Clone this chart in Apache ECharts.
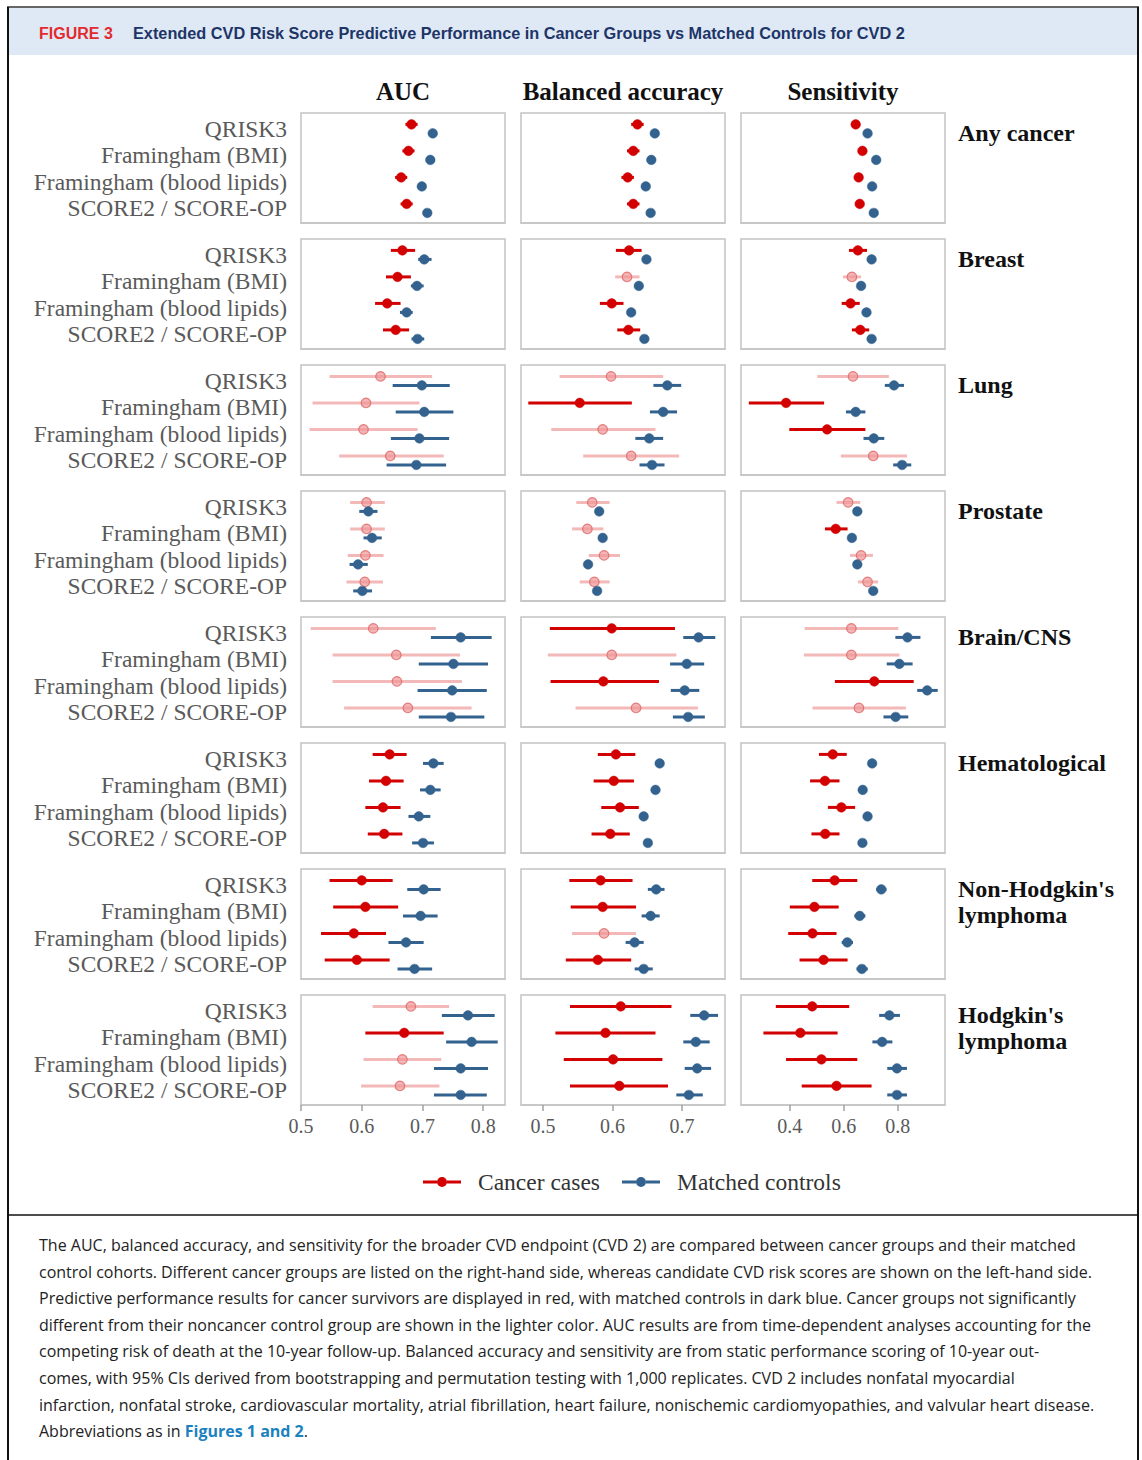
<!DOCTYPE html>
<html>
<head>
<meta charset="utf-8">
<script src="https://cdn.jsdelivr.net/npm/echarts@6/dist/echarts.min.js"></script>
<style>
  html, body { margin: 0; padding: 0; background: #fff; }
  #chart { width: 1142px; height: 1460px; }
</style>
</head>
<body>
<div id="chart"></div>
<script>
// categories
const scores = ["QRISK3", "Framingham (BMI)", "Framingham (blood lipids)", "SCORE2 / SCORE-OP"];
const groups = ["Any cancer", "Breast", "Lung", "Prostate", "Brain/CNS", "Hematological", "Non-Hodgkin's\nlymphoma", "Hodgkin's\nlymphoma"];
const metrics = ["AUC", "Balanced accuracy", "Sensitivity"];

// tick labels per metric
const aucTicks = [0.5, 0.6, 0.7, 0.8];
const baTicks = [0.5, 0.6, 0.7];
const sensTicks = [0.4, 0.6, 0.8];

// [estimate, lower CI, upper CI], rows = groups, cols = scores
const aucCases = [
  [[0.682,0.672,0.692],[0.677,0.667,0.687],[0.665,0.655,0.675],[0.674,0.664,0.684]],
  [[0.667,0.648,0.688],[0.659,0.640,0.681],[0.642,0.622,0.664],[0.656,0.635,0.678]],
  [[0.631,0.547,0.716],[0.607,0.519,0.695],[0.603,0.514,0.692],[0.647,0.563,0.735]],
  [[0.608,0.581,0.638],[0.608,0.581,0.638],[0.606,0.577,0.636],[0.605,0.575,0.635]],
  [[0.619,0.516,0.722],[0.657,0.552,0.762],[0.658,0.552,0.765],[0.676,0.571,0.781]],
  [[0.646,0.618,0.674],[0.640,0.612,0.669],[0.635,0.606,0.664],[0.637,0.610,0.667]],
  [[0.600,0.547,0.651],[0.606,0.553,0.660],[0.587,0.533,0.640],[0.592,0.539,0.646]],
  [[0.681,0.618,0.744],[0.670,0.606,0.735],[0.667,0.603,0.731],[0.663,0.599,0.728]]
];
const aucControls = [
  [[0.717,0.714,0.720],[0.713,0.710,0.716],[0.699,0.696,0.702],[0.708,0.705,0.711]],
  [[0.703,0.693,0.715],[0.691,0.681,0.702],[0.674,0.663,0.684],[0.692,0.682,0.703]],
  [[0.699,0.651,0.745],[0.703,0.656,0.751],[0.695,0.648,0.744],[0.690,0.641,0.739]],
  [[0.611,0.596,0.626],[0.617,0.603,0.633],[0.594,0.580,0.610],[0.601,0.586,0.617]],
  [[0.763,0.714,0.814],[0.751,0.694,0.808],[0.749,0.692,0.806],[0.747,0.694,0.802]],
  [[0.718,0.701,0.735],[0.713,0.696,0.730],[0.694,0.677,0.713],[0.701,0.683,0.719]],
  [[0.702,0.675,0.730],[0.697,0.668,0.725],[0.673,0.644,0.702],[0.687,0.659,0.716]],
  [[0.775,0.732,0.819],[0.781,0.739,0.824],[0.763,0.719,0.808],[0.763,0.719,0.806]]
];
// 1 = significantly different from controls (dark red), 0 = lighter red
const aucSig = [[1,1,1,1],[1,1,1,1],[0,0,0,0],[0,0,0,0],[0,0,0,0],[1,1,1,1],[1,1,1,1],[0,1,0,0]];

const baCases = [
  [[0.636,0.627,0.645],[0.630,0.621,0.639],[0.622,0.613,0.631],[0.630,0.621,0.639]],
  [[0.624,0.605,0.642],[0.621,0.604,0.639],[0.599,0.582,0.616],[0.623,0.607,0.640]],
  [[0.598,0.524,0.673],[0.553,0.479,0.628],[0.586,0.512,0.662],[0.627,0.558,0.696]],
  [[0.571,0.548,0.596],[0.564,0.542,0.587],[0.588,0.566,0.611],[0.574,0.553,0.596]],
  [[0.599,0.510,0.690],[0.599,0.507,0.692],[0.587,0.511,0.667],[0.634,0.547,0.723]],
  [[0.605,0.579,0.633],[0.602,0.573,0.631],[0.611,0.584,0.638],[0.597,0.570,0.625]],
  [[0.583,0.538,0.629],[0.586,0.540,0.634],[0.588,0.542,0.634],[0.579,0.533,0.627]],
  [[0.612,0.539,0.685],[0.590,0.518,0.662],[0.601,0.530,0.672],[0.610,0.539,0.680]]
];
const baControls = [
  [[0.661,0.658,0.664],[0.656,0.653,0.659],[0.648,0.645,0.651],[0.655,0.652,0.658]],
  [[0.649,0.646,0.652],[0.638,0.635,0.641],[0.627,0.624,0.630],[0.646,0.643,0.649]],
  [[0.679,0.659,0.699],[0.673,0.654,0.693],[0.653,0.633,0.673],[0.657,0.639,0.675]],
  [[0.581,0.578,0.584],[0.586,0.583,0.589],[0.565,0.562,0.568],[0.578,0.575,0.581]],
  [[0.724,0.702,0.748],[0.707,0.683,0.732],[0.704,0.684,0.725],[0.709,0.687,0.733]],
  [[0.668,0.664,0.672],[0.662,0.658,0.666],[0.645,0.641,0.649],[0.651,0.647,0.655]],
  [[0.663,0.651,0.675],[0.655,0.642,0.668],[0.632,0.619,0.645],[0.645,0.632,0.658]],
  [[0.732,0.712,0.752],[0.720,0.702,0.740],[0.722,0.704,0.742],[0.710,0.692,0.730]]
];
const baSig = [[1,1,1,1],[1,0,1,1],[0,1,0,0],[0,0,0,0],[1,0,1,0],[1,1,1,1],[1,1,0,1],[1,1,1,1]];

const sensCases = [
  [[0.644,0.634,0.654],[0.669,0.659,0.679],[0.655,0.645,0.665],[0.659,0.649,0.669]],
  [[0.652,0.619,0.686],[0.630,0.597,0.664],[0.625,0.592,0.659],[0.661,0.630,0.694]],
  [[0.634,0.502,0.767],[0.386,0.248,0.527],[0.538,0.398,0.680],[0.709,0.589,0.834]],
  [[0.616,0.573,0.661],[0.570,0.530,0.614],[0.664,0.623,0.708],[0.688,0.652,0.727]],
  [[0.628,0.455,0.802],[0.628,0.452,0.806],[0.713,0.567,0.859],[0.656,0.484,0.830]],
  [[0.559,0.508,0.611],[0.530,0.475,0.584],[0.591,0.541,0.642],[0.531,0.480,0.584]],
  [[0.566,0.483,0.650],[0.491,0.400,0.581],[0.484,0.394,0.573],[0.525,0.436,0.614]],
  [[0.483,0.348,0.620],[0.439,0.302,0.577],[0.517,0.386,0.650],[0.573,0.444,0.703]]
];
const sensControls = [
  [[0.688,0.681,0.695],[0.720,0.713,0.727],[0.705,0.698,0.712],[0.711,0.704,0.718]],
  [[0.703,0.696,0.710],[0.664,0.657,0.671],[0.684,0.677,0.691],[0.703,0.696,0.710]],
  [[0.786,0.752,0.823],[0.644,0.608,0.680],[0.711,0.673,0.750],[0.816,0.783,0.850]],
  [[0.650,0.643,0.657],[0.630,0.623,0.637],[0.650,0.643,0.657],[0.709,0.702,0.716]],
  [[0.836,0.791,0.884],[0.806,0.759,0.855],[0.909,0.872,0.948],[0.792,0.747,0.839]],
  [[0.705,0.698,0.712],[0.670,0.663,0.677],[0.688,0.681,0.695],[0.669,0.662,0.676]],
  [[0.739,0.720,0.758],[0.659,0.639,0.680],[0.613,0.592,0.634],[0.667,0.647,0.689]],
  [[0.769,0.731,0.808],[0.742,0.706,0.780],[0.797,0.761,0.834],[0.797,0.761,0.834]]
];
const sensSig = [[1,1,1,1],[1,0,1,1],[0,1,1,0],[0,1,0,0],[0,0,1,0],[1,1,1,1],[1,1,1,1],[1,1,1,1]];

const caption = [
  "The AUC, balanced accuracy, and sensitivity for the broader CVD endpoint (CVD 2) are compared between cancer groups and their matched",
  "control cohorts. Different cancer groups are listed on the right-hand side, whereas candidate CVD risk scores are shown on the left-hand side.",
  "Predictive performance results for cancer survivors are displayed in red, with matched controls in dark blue. Cancer groups not significantly",
  "different from their noncancer control group are shown in the lighter color. AUC results are from time-dependent analyses accounting for the",
  "competing risk of death at the 10-year follow-up. Balanced accuracy and sensitivity are from static performance scoring of 10-year out-",
  "comes, with 95% CIs derived from bootstrapping and permutation testing with 1,000 replicates. CVD 2 includes nonfatal myocardial",
  "infarction, nonfatal stroke, cardiovascular mortality, atrial fibrillation, heart failure, nonischemic cardiomyopathies, and valvular heart disease.",
  "Abbreviations as in {link|Figures 1 and 2}."
];

// colours
const RED = "#d20000";
const RED_LIGHT = "rgba(236,140,140,0.62)";
const RED_LIGHT_RING = "rgba(222,96,96,0.75)";
const BLUE = "#33628f";
const SERIF = '"Liberation Serif", "DejaVu Serif", serif';

// layout
const colLeft = [301, 521, 741];
const panelW = 204, panelH = 110, rowTop0 = 113, rowStep = 126;
const xRange = [[0.5, 0.836], [0.4685, 0.762], [0.219, 0.975]];
const tickSets = [aucTicks, baTicks, sensTicks];
const casesSets = [aucCases, baCases, sensCases];
const controlSets = [aucControls, baControls, sensControls];
const sigSets = [aucSig, baSig, sensSig];

const chart = echarts.init(document.getElementById("chart"), null, { renderer: "svg" });

const grids = [], xAxes = [], yAxes = [], series = [];

function renderCI(params, api) {
  const y = api.value(3);
  const p = api.coord([api.value(0), y]);
  const a = api.coord([api.value(1), y]);
  const b = api.coord([api.value(2), y]);
  const kind = api.value(4); // 0 light red, 1 dark red, 2 blue
  const line = kind === 0 ? RED_LIGHT : kind === 1 ? RED : BLUE;
  const fill = kind === 0 ? "rgba(238,150,150,0.7)" : line;
  const stroke = kind === 0 ? RED_LIGHT_RING : line;
  return {
    type: "group",
    children: [
      { type: "line", shape: { x1: a[0], y1: a[1], x2: b[0], y2: b[1] },
        style: { stroke: line, lineWidth: 3 } },
      { type: "circle", shape: { cx: p[0], cy: p[1], r: 4.8 },
        style: { fill: fill, stroke: stroke, lineWidth: kind === 0 ? 1.2 : 0.5 } }
    ]
  };
}

let idx = 0;
for (let g = 0; g < groups.length; g++) {
  for (let m = 0; m < metrics.length; m++) {
    const isBottom = g === groups.length - 1;
    grids.push({
      left: colLeft[m], top: rowTop0 + g * rowStep, width: panelW, height: panelH,
      show: true, borderColor: "#c4c4c4", borderWidth: 1.5, backgroundColor: "#fff"
    });
    xAxes.push({
      gridIndex: idx, type: "value", min: xRange[m][0], max: xRange[m][1], position: "bottom",
      axisLine: { show: true, onZero: false, lineStyle: { color: "#c4c4c4", width: 1.5 } },
      splitLine: { show: false },
      axisTick: {
        show: isBottom, inside: false, length: 6, lineStyle: { color: "#a0a0a0", width: 1.5 },
        customValues: tickSets[m]
      },
      axisLabel: {
        show: isBottom, customValues: tickSets[m], margin: 11,
        formatter: v => v.toFixed(1),
        fontFamily: SERIF, fontSize: 20, color: "#5a5a5a"
      }
    });
    yAxes.push({
      gridIndex: idx, type: "value", inverse: true, min: -0.6, max: 3.55,
      axisLine: { show: false, onZero: false }, axisTick: { show: false }, splitLine: { show: false },
      axisLabel: {
        show: m === 0, customValues: [0, 1, 2, 3], margin: 14,
        formatter: v => scores[Math.round(v)] || "",
        fontFamily: SERIF, fontSize: 23.5, color: "#5a5a5a"
      }
    });
    const cases = casesSets[m][g], ctrl = controlSets[m][g], sig = sigSets[m][g];
    series.push({
      type: "custom", name: "Cancer cases", xAxisIndex: idx, yAxisIndex: idx,
      itemStyle: { color: RED }, renderItem: renderCI, encode: { x: [0, 1, 2], y: 3 },
      data: cases.map((d, i) => [d[0], d[1], d[2], i - 0.17, sig[i]]),
      silent: true
    });
    series.push({
      type: "custom", name: "Matched controls", xAxisIndex: idx, yAxisIndex: idx,
      itemStyle: { color: BLUE }, renderItem: renderCI, encode: { x: [0, 1, 2], y: 3 },
      data: ctrl.map((d, i) => [d[0], d[1], d[2], i + 0.17, 2]),
      silent: true
    });
    idx++;
  }
}

// graphic texts: header band, column titles, group labels, caption
const graphics = [
  { type: "rect", shape: { x: 8, y: 8, width: 1130, height: 47 }, style: { fill: "#dfe9f5" } },
  { type: "line", shape: { x1: 7, y1: 7, x2: 1139, y2: 7 }, style: { stroke: "#333", lineWidth: 1.5 } },
  { type: "line", shape: { x1: 8, y1: 7, x2: 8, y2: 1460 }, style: { stroke: "#111", lineWidth: 2 } },
  { type: "line", shape: { x1: 1138, y1: 7, x2: 1138, y2: 1460 }, style: { stroke: "#111", lineWidth: 2 } },
  { type: "line", shape: { x1: 8, y1: 1215, x2: 1138, y2: 1215 }, style: { stroke: "#111", lineWidth: 1.5 } },
  { type: "text", x: 39, y: 33, style: { text: "FIGURE 3", fill: "#e32b2f",
      font: 'bold 16px "Liberation Sans", sans-serif', textVerticalAlign: "middle" } },
  { type: "text", x: 133, y: 33, style: { text: "Extended CVD Risk Score Predictive Performance in Cancer Groups vs Matched Controls for CVD 2",
      fill: "#1d3567", font: 'bold 16.3px "Liberation Sans", sans-serif', textVerticalAlign: "middle" } }
];
metrics.forEach((t, m) => {
  graphics.push({ type: "text", x: colLeft[m] + panelW / 2, y: 91,
    style: { text: t, fill: "#111", font: "bold 25px " + SERIF, textAlign: "center", textVerticalAlign: "middle" } });
});
groups.forEach((t, g) => {
  graphics.push({ type: "text", x: 958, y: rowTop0 + g * rowStep + 7,
    style: { text: t, fill: "#111", font: "bold 24px " + SERIF, lineHeight: 26, textAlign: "left", textVerticalAlign: "top" } });
});
caption.forEach((t, i) => {
  graphics.push({ type: "text", x: 39, y: 1245 + i * 26.6,
    style: { text: t, fill: "#222", font: '16px "Open Sans", sans-serif', textVerticalAlign: "middle",
      rich: { link: { fill: "#1b82c0", fontWeight: "bold", fontSize: 16, fontFamily: '"Open Sans", sans-serif' } } } });
});

// line segment with a dot in the middle (bar split so the dot stays filled)
const legendIcon = "path://M0,3.5h14v3H0z M24,3.5h14v3H24z M14,5a5,5 0 1,1 10,0a5,5 0 1,1 -10,0z";

chart.setOption({
  animation: false,
  grid: grids,
  xAxis: xAxes,
  yAxis: yAxes,
  series: series,
  legend: {
    left: 418, top: 1165, itemWidth: 38, itemHeight: 10, itemGap: 22, selectedMode: false,
    data: [{ name: "Cancer cases", icon: legendIcon }, { name: "Matched controls", icon: legendIcon }],
    textStyle: { fontFamily: SERIF, fontSize: 23.5, color: "#333", padding: [0, 0, 0, 12] }
  },
  graphic: graphics
});

window.addEventListener("resize", () => chart.resize());
</script>
</body>
</html>
